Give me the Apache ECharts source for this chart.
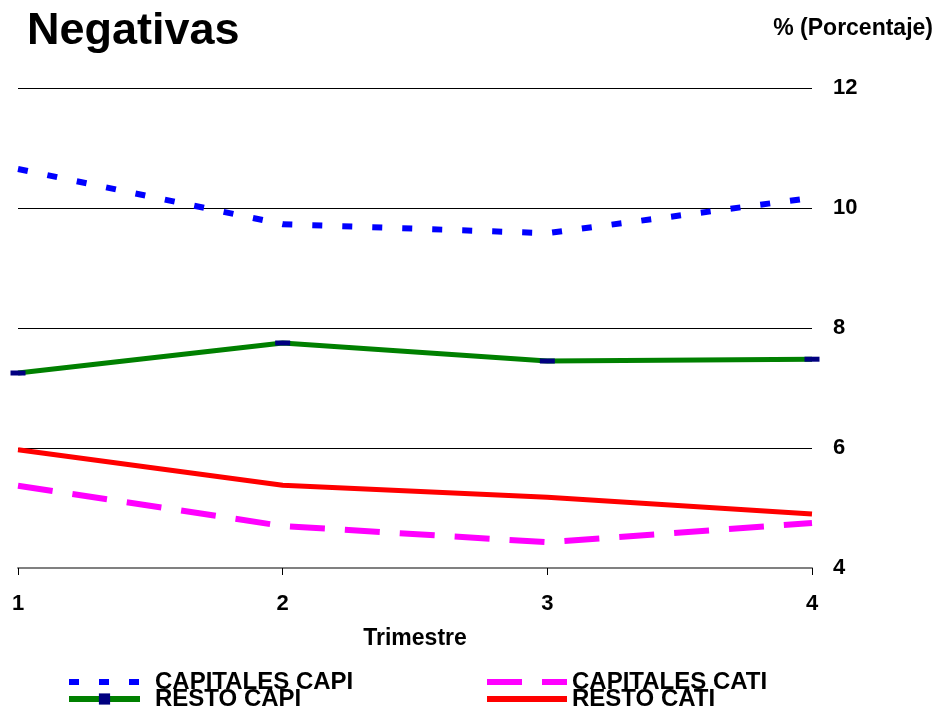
<!DOCTYPE html>
<html>
<head>
<meta charset="utf-8">
<script src="https://cdn.jsdelivr.net/npm/echarts@6/dist/echarts.min.js"></script>
<style>
  html, body { margin: 0; padding: 0; background: #fff; }
  #chart { width: 941px; height: 712px; }
</style>
</head>
<body>
<div id="chart"></div>
<script>
// Quarterly share of negative responses (%) by survey group
const trimestres = ['1', '2', '3', '4'];
const capitalesCapi = [10.65, 9.73, 9.58, 10.17];
const capitalesCati = [5.37, 4.70, 4.43, 4.75];
const restoCapi = [7.25, 7.75, 7.45, 7.48];
const restoCati = [5.97, 5.38, 5.18, 4.90];
const yTicks = { min: 4, max: 12, interval: 2 };

const FONT = '"Liberation Sans", Arial, sans-serif';
const chart = echarts.init(document.getElementById('chart'));

const legendText = { fontFamily: FONT, fontWeight: 'bold', fontSize: 24, lineHeight: 18, color: '#000' };

// one legend entry per box so each sits in its own slot of the 2x2 key
function legendBox(entry, left, top, width, textPad) {
  return {
    left: left, top: top,
    itemWidth: width, itemHeight: 14,
    padding: 0,
    data: [entry],
    lineStyle: { width: 6 },
    textStyle: Object.assign({}, legendText, { padding: [0, 0, 0, textPad] })
  };
}

chart.setOption({
  animation: false,
  backgroundColor: '#ffffff',
  title: [
    {
      text: 'Negativas',
      left: 22, top: 4,
      textStyle: { fontFamily: FONT, fontWeight: 'bold', fontSize: 45, color: '#000' }
    },
    {
      text: '% (Porcentaje)',
      right: 3, top: 12,
      textStyle: { fontFamily: FONT, fontWeight: 'bold', fontSize: 23, color: '#000' }
    }
  ],
  grid: { left: 18, right: 129, top: 88, bottom: 144, containLabel: false },
  xAxis: {
    type: 'category',
    data: trimestres,
    boundaryGap: false,
    name: 'Trimestre',
    nameLocation: 'middle',
    nameGap: 59,
    nameTextStyle: { fontFamily: FONT, fontWeight: 'bold', fontSize: 23, color: '#000' },
    axisLine: { lineStyle: { color: '#808080', width: 2 } },
    axisTick: { inside: false, length: 7, lineStyle: { color: '#000', width: 1 } },
    axisLabel: { margin: 25, fontFamily: FONT, fontWeight: 'bold', fontSize: 22, color: '#000' }
  },
  yAxis: {
    type: 'value',
    position: 'right',
    min: yTicks.min, max: yTicks.max, interval: yTicks.interval,
    axisLine: { show: false },
    axisTick: { show: false },
    axisLabel: { margin: 21, fontFamily: FONT, fontWeight: 'bold', fontSize: 22, color: '#000' },
    splitLine: { lineStyle: { color: '#000', width: 1 } }
  },
  legend: [
    legendBox({ name: 'CAPITALES CAPI', itemStyle: { opacity: 0 } }, 66, 670, 71, 10),
    legendBox({ name: 'RESTO CAPI' }, 66, 687, 71, 10),
    legendBox({ name: 'CAPITALES CATI', itemStyle: { opacity: 0 } }, 484, 670, 80, 0),
    legendBox({ name: 'RESTO CATI', itemStyle: { opacity: 0 } }, 484, 687, 80, 0)
  ],
  series: [
    {
      name: 'CAPITALES CAPI', type: 'line', data: capitalesCapi,
      symbol: 'none', color: '#0000ff',
      lineStyle: { color: '#0000ff', width: 6, type: [10, 20], cap: 'butt' }
    },
    {
      name: 'CAPITALES CATI', type: 'line', data: capitalesCati,
      symbol: 'none', color: '#ff00ff',
      lineStyle: { color: '#ff00ff', width: 6, type: [35, 20], cap: 'butt' }
    },
    {
      name: 'RESTO CAPI', type: 'line', data: restoCapi,
      symbol: 'rect', symbolSize: [15, 5], color: '#000080',
      itemStyle: { color: '#000080' },
      lineStyle: { color: '#008000', width: 5 }
    },
    {
      name: 'RESTO CATI', type: 'line', data: restoCati,
      symbol: 'none', color: '#ff0000',
      lineStyle: { color: '#ff0000', width: 5 }
    }
  ]
});
</script>
</body>
</html>
